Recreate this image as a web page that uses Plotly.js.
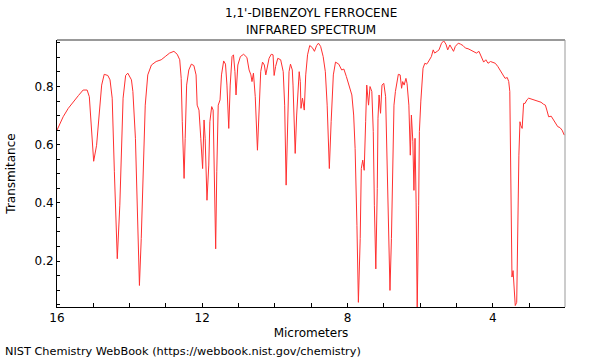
<!DOCTYPE html>
<html>
<head>
<meta charset="utf-8">
<script src="https://cdn.plot.ly/plotly-3.0.1.min.js"></script>
<style>html,body{margin:0;padding:0;background:#fff;}#chart{width:600px;height:360px;}</style>
</head>
<body>
<div id="chart"></div>
<script>
var titleLines = ["1,1'-DIBENZOYL FERROCENE", "INFRARED SPECTRUM"];
var xLabel = "Micrometers";
var yLabel = "Transmitance";
var credit = "NIST Chemistry WebBook (https://webbook.nist.gov/chemistry)";

var micrometers = [
16.00,15.83,15.69,15.55,15.41,15.28,15.17,15.11,15.06,14.99,14.91,14.84,14.77,14.70,14.60,14.54,14.48,14.42,14.34,14.27,14.22,14.18,14.11,14.05,
13.95,13.91,13.84,13.79,13.73,13.68,13.63,13.57,13.50,13.40,13.27,13.13,13.02,12.90,12.78,12.69,12.62,12.58,12.55,12.50,12.47,12.43,12.37,12.30,12.23,12.17,12.14,12.09,12.04,
11.99,11.95,11.92,11.87,11.82,11.79,11.74,11.70,11.67,11.63,11.60,11.56,11.51,11.47,11.41,11.36,11.32,11.27,11.23,11.18,11.14,11.10,11.07,11.02,10.95,10.86,10.77,10.71,10.66,10.63,10.59,10.54,10.48,10.42,10.39,10.34,10.29,10.25,10.20,10.16,10.10,10.05,
10.02,9.98,9.92,9.84,9.77,9.73,9.69,9.64,9.61,9.57,9.52,9.50,9.44,9.40,9.37,9.33,9.30,9.28,9.24,9.19,9.15,9.10,9.04,8.97,8.91,8.85,8.80,8.74,8.67,8.61,8.56,8.50,8.45,8.39,8.33,8.24,8.16,8.10,8.03,
7.94,7.88,7.83,7.79,7.74,7.70,7.65,7.62,7.58,7.54,7.50,7.47,7.42,7.38,7.33,7.29,7.26,7.22,7.18,7.16,7.13,7.09,7.05,7.00,6.95,6.92,6.88,6.85,6.83,6.79,6.75,6.72,6.68,6.64,6.60,6.55,6.51,6.48,6.44,6.39,6.36,6.31,6.27,6.24,6.20,6.17,6.14,6.11,6.08,6.04,6.02,
5.98,5.95,5.92,5.87,5.82,5.78,5.73,5.69,5.64,5.60,5.53,5.48,5.41,5.35,5.29,5.24,5.18,5.14,5.08,5.03,4.95,4.89,4.82,4.75,4.68,4.60,4.52,4.45,4.38,4.31,4.25,4.19,4.13,4.06,
3.99,3.93,3.86,3.80,3.73,3.66,3.60,3.56,3.53,3.51,3.50,3.47,3.44,3.42,3.38,3.34,3.31,3.28,3.25,3.23,3.19,3.15,3.11,3.06,3.01,2.94,2.88,2.81,2.73,2.67,2.60,2.55,2.51,2.46,2.39,2.33,2.28,2.21,2.15,2.09,2.03
];

var transmitance = [
0.650,0.696,0.725,0.748,0.769,0.788,0.788,0.765,0.667,0.543,0.598,0.702,0.805,0.842,0.838,0.823,0.760,0.507,0.208,0.392,0.622,0.760,0.838,0.846,
0.823,0.783,0.622,0.392,0.116,0.277,0.507,0.736,0.840,0.874,0.886,0.892,0.903,0.915,0.921,0.911,0.892,0.828,0.679,0.484,0.622,0.805,0.857,0.877,0.872,0.840,0.736,0.719,0.622,
0.518,0.685,0.622,0.409,0.530,0.679,0.731,0.719,0.507,0.242,0.507,0.736,0.754,0.840,0.888,0.877,0.805,0.656,0.805,0.903,0.909,0.851,0.771,0.874,0.903,0.911,0.900,0.857,0.840,0.817,0.846,0.765,0.581,0.736,0.851,0.884,0.874,0.840,0.869,0.897,0.911,0.909,
0.838,0.869,0.897,0.892,0.851,0.736,0.461,0.679,0.851,0.877,0.857,0.805,0.570,0.702,0.783,0.851,0.817,0.725,0.760,0.719,0.840,0.909,0.941,0.934,0.921,0.941,0.949,0.938,0.903,0.851,0.736,0.518,0.679,0.840,0.884,0.877,0.857,0.860,0.834,
0.794,0.771,0.702,0.587,0.323,0.058,0.277,0.518,0.547,0.512,0.679,0.805,0.736,0.800,0.783,0.645,0.392,0.173,0.449,0.691,0.771,0.708,0.805,0.811,0.765,0.622,0.334,0.208,0.099,0.277,0.530,0.736,0.783,0.811,0.842,0.840,0.794,0.817,0.805,0.828,0.811,0.736,0.564,0.702,0.610,0.443,0.622,0.400,0.030,0.392,0.645,
0.750,0.811,0.863,0.880,0.877,0.884,0.897,0.903,0.926,0.915,0.921,0.926,0.949,0.957,0.946,0.926,0.943,0.932,0.921,0.938,0.949,0.946,0.941,0.932,0.930,0.925,0.921,0.915,0.921,0.903,0.884,0.892,0.880,0.886,
0.884,0.880,0.869,0.857,0.842,0.828,0.831,0.817,0.783,0.622,0.392,0.145,0.167,0.116,0.047,0.058,0.334,0.564,0.679,0.667,0.656,0.742,0.742,0.754,0.760,0.757,0.757,0.754,0.750,0.746,0.739,0.736,0.719,0.696,0.698,0.685,0.679,0.662,0.659,0.650,0.633
];

var xRange = [16, 2.01];
var yRange = [0.042, 0.960];

var fontFam = "DejaVu Sans, sans-serif";

var trace = {
  x: micrometers,
  y: transmitance,
  type: 'scatter',
  mode: 'lines',
  line: {color: '#ff3030', width: 1},
  hoverinfo: 'skip'
};

var layout = {
  width: 600,
  height: 360,
  margin: {l: 57, r: 35, t: 40, b: 53, pad: 0},
  paper_bgcolor: '#fff',
  plot_bgcolor: '#fff',
  showlegend: false,
  font: {family: fontFam, size: 12, color: '#000'},
  xaxis: {
    range: xRange,
    showgrid: false,
    zeroline: false,
    showline: true, linecolor: '#000', linewidth: 1,
    ticks: 'inside', ticklen: 4, tickcolor: '#000',
    tick0: 0, dtick: 4,
    minor: {dtick: 1, ticks: 'inside', ticklen: 4, tickcolor: '#000'},
    tickfont: {family: fontFam, size: 12, color: '#000'},
    title: {text: xLabel, font: {family: fontFam, size: 12, color: '#000'}, standoff: 4}
  },
  yaxis: {
    range: yRange,
    showgrid: false,
    zeroline: false,
    showline: true, linecolor: '#000', linewidth: 1,
    ticks: 'inside', ticklen: 3, tickcolor: '#000',
    tick0: 0, dtick: 0.2,
    minor: {dtick: 0.05, ticks: 'inside', ticklen: 3, tickcolor: '#000'},
    tickfont: {family: fontFam, size: 12, color: '#000'},
    tickformat: '.1f',
    title: {text: yLabel, font: {family: fontFam, size: 12, color: '#000'}, standoff: 16}
  },
  shapes: [
    {type: 'line', xref: 'paper', yref: 'paper', x0: 0, x1: 1, y0: 1, y1: 1, line: {color: '#999', width: 2}},
    {type: 'line', xref: 'paper', yref: 'paper', x0: 1, x1: 1, y0: 0, y1: 1, line: {color: '#999', width: 1}}
  ],
  annotations: [
    {text: titleLines[0], xref: 'paper', yref: 'paper', x: 0.5, y: 1.0998, xanchor: 'center', yanchor: 'middle',
     showarrow: false, font: {family: fontFam, size: 12, color: '#000'}},
    {text: titleLines[1], xref: 'paper', yref: 'paper', x: 0.5, y: 1.036, xanchor: 'center', yanchor: 'middle',
     showarrow: false, font: {family: fontFam, size: 12, color: '#000'}},
    {text: credit, xref: 'paper', yref: 'paper', x: -0.106, y: -0.167, xanchor: 'left', yanchor: 'middle',
     showarrow: false, font: {family: fontFam, size: 11.3, color: '#000'}}
  ]
};

Plotly.newPlot('chart', [trace], layout, {displayModeBar: false, staticPlot: true});
</script>
</body>
</html>
